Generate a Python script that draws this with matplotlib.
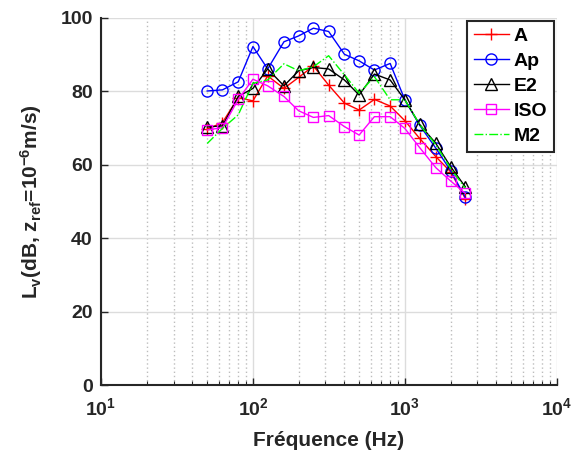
import matplotlib
matplotlib.use("Agg")
import matplotlib.pyplot as plt
from matplotlib.ticker import LogLocator, NullFormatter

plt.rcParams['font.family'] = ['Liberation Sans', 'DejaVu Sans']
plt.rcParams['font.weight'] = 'bold'
plt.rcParams['mathtext.fontset'] = 'custom'
plt.rcParams['mathtext.rm'] = 'Liberation Sans:bold'
plt.rcParams['mathtext.it'] = 'Liberation Sans:bold'
plt.rcParams['mathtext.bf'] = 'Liberation Sans:bold'
plt.rcParams['mathtext.default'] = 'rm'

freq = [50, 63, 80, 100, 125, 160, 200, 250, 315, 400, 500, 630, 800, 1000, 1250, 1600, 2000, 2500]
A   = [69.7, 71.5, 78.3, 77.4, 84.2, 80.8, 83.8, 86.9, 81.7, 76.8, 74.9, 77.8, 76.0, 72.0, 67.2, 62.2, 58.1, 50.8]
Ap  = [80.1, 80.4, 82.6, 92.2, 86.1, 93.5, 95.1, 97.2, 96.3, 90.1, 88.3, 85.8, 87.6, 77.7, 70.8, 64.5, 58.4, 51.1]
E2  = [70.3, 70.6, 78.6, 80.8, 86.1, 81.5, 85.6, 86.5, 86.1, 83.1, 79.0, 84.7, 83.1, 77.7, 71.0, 65.8, 59.5, 54.0]
ISO = [69.5, 70.1, 77.8, 83.3, 81.5, 78.6, 74.7, 72.9, 73.4, 70.4, 68.1, 73.1, 73.1, 69.9, 64.7, 59.2, 55.6, 52.2]
M2  = [65.8, 69.9, 73.6, 82.2, 83.1, 87.5, 85.6, 86.7, 89.7, 84.5, 79.5, 84.0, 77.7, 77.7, 71.0, 65.4, 59.0, 53.6]

fig = plt.figure(figsize=(5.74, 4.59), dpi=100)
ax = fig.add_axes([0.176, 0.161, 0.794, 0.800])

ax.plot(freq, A, color='#ff0000', marker='+', markersize=9, lw=1.0, mew=1.0, label='A')
ax.plot(freq, Ap, color='#0000ff', marker='o', markersize=8, mfc='none', lw=1.0, mew=1.0, label='Ap')
ax.plot(freq, E2, color='#000000', marker='^', markersize=8, mfc='none', lw=1.0, mew=1.0, label='E2')
ax.plot(freq, ISO, color='#ff00ff', marker='s', markersize=7, mfc='none', lw=1.0, mew=1.0, label='ISO')
ax.plot(freq, M2, color='#00ff00', linestyle='-.', lw=1.0, label='M2')

ax.set_xscale('log')
ax.set_xlim(10, 1e4)
ax.set_ylim(0, 100)
ax.set_yticks([0, 20, 40, 60, 80, 100])
ax.set_xticks([10, 100, 1000, 10000])
ax.set_xticklabels([r'$10^{1}$', r'$10^{2}$', r'$10^{3}$', r'$10^{4}$'])
ax.xaxis.set_minor_locator(LogLocator(base=10, subs=range(2, 10), numticks=20))
ax.xaxis.set_minor_formatter(NullFormatter())

ax.grid(True, which='major', color='#dcdcdc', lw=1.0, ls='-')
ax.grid(True, which='minor', axis='x', color='#bdbdbd', lw=1.0, ls=(0, (1, 2)))
ax.set_axisbelow(True)

for s in ['top', 'right']:
    ax.spines[s].set_visible(False)
for s in ['left', 'bottom']:
    ax.spines[s].set_color('#262626')
    ax.spines[s].set_linewidth(1.5)

ax.tick_params(axis='both', which='major', direction='in', length=5, width=1.0,
               colors='#262626', labelsize=14)
ax.tick_params(axis='x', which='major', pad=9)
ax.tick_params(axis='y', which='major', pad=6)
ax.tick_params(axis='x', which='minor', direction='in', length=3, width=0.8, colors='#262626')
for lab in ax.get_xticklabels() + ax.get_yticklabels():
    lab.set_fontweight('bold')

ax.set_xlabel('Fréquence (Hz)', fontsize=15, fontweight='bold', color='#262626', labelpad=8)
ax.set_ylabel(r'L$_{v}$(dB, z$_{ref}$=10$^{-6}$m/s)', fontsize=15, fontweight='bold', color='#262626', labelpad=12)

leg = ax.legend(loc='upper right', frameon=True, fancybox=False,
                borderaxespad=0.15, handlelength=1.8, handletextpad=0.25, labelspacing=0.38,
                borderpad=0.35, prop={'weight': 'bold', 'size': 14})
leg.get_frame().set_edgecolor('#262626')
leg.get_frame().set_linewidth(1.5)
leg.get_frame().set_alpha(1)

fig.savefig('out.png', dpi=100)
